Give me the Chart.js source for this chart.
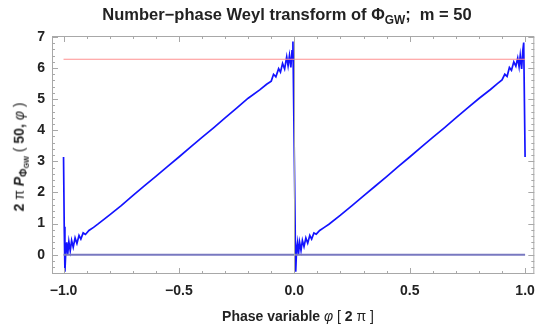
<!DOCTYPE html>
<html>
<head>
<meta charset="utf-8">
<script src="https://cdn.jsdelivr.net/npm/chart.js@4/dist/chart.umd.min.js"></script>
<style>
  body { margin: 0; background: #fff; overflow: hidden; }
  #wrap { position: relative; width: 544px; height: 324px; font-family: "Liberation Sans", Arial, sans-serif; color: #222; }
  #wrap canvas { position: absolute; left: 0; top: 0; }
  .lbl { position: absolute; font-weight: bold; white-space: nowrap; line-height: 1; }
  .lbl sub { font-size: 72%; vertical-align: -0.3em; }
  .lt { font-weight: normal; }
  #title { top: 6px; left: 0; width: 574px; text-align: center; font-size: 16.5px; }
  #xtitle { top: 309px; left: 0; width: 596px; text-align: center; font-size: 14px; }
  #ytitle { left: 21px; top: 157px; font-size: 14px; transform: translate(-50%, -50%) rotate(-90deg); }
</style>
</head>
<body>
<div id="wrap">
  <canvas id="chart" width="544" height="324"></canvas>
  <div class="lbl" id="title">Number−phase Weyl transform of Φ<sub>GW</sub>;&nbsp; m = 50</div>
  <div class="lbl" id="xtitle">Phase variable <i class="lt">φ</i> <span class="lt">[</span> 2 <span class="lt">π ]</span></div>
  <div class="lbl" id="ytitle">2 <span class="lt">π</span> <i>P</i><sub>Φ<sub>GW</sub></sub> <span class="lt">(</span> 50, <i class="lt">φ</i> <span class="lt">)</span></div>
</div>
<script>
// 곡선 데이터 (phase, 2π·P) ////////////////////////////////////////////////
const phi = [
  -1.000, -0.997, -0.994, -0.990, -0.986, -0.982, -0.977, -0.971, -0.965, -0.958,
  -0.950, -0.942, -0.933, -0.925, -0.915, -0.905, -0.890, -0.870, -0.850, -0.800,
  -0.750, -0.700, -0.650, -0.600, -0.550, -0.500, -0.450, -0.400, -0.350, -0.300,
  -0.250, -0.200, -0.150, -0.120, -0.100, -0.090, -0.080, -0.068, -0.060, -0.051,
  -0.042, -0.033, -0.027, -0.021, -0.015, -0.010, -0.006, 0.000,
  0.006, 0.010, 0.014, 0.018, 0.023, 0.029, 0.035, 0.042, 0.050, 0.058,
  0.067, 0.075, 0.085, 0.095, 0.110, 0.130, 0.150, 0.200, 0.250, 0.300,
  0.350, 0.400, 0.450, 0.500, 0.550, 0.600, 0.650, 0.700, 0.750, 0.800,
  0.850, 0.880, 0.900, 0.912, 0.922, 0.932, 0.941, 0.951, 0.960, 0.968,
  0.974, 0.979, 0.985, 0.990, 0.994, 1.000
];
const weyl = [
  3.14, 0.90, -0.55, 0.15, 0.40, 0.00, 0.42, 0.12, 0.46, 0.24,
  0.54, 0.36, 0.62, 0.50, 0.70, 0.65, 0.78, 0.88, 0.99, 1.28,
  1.58, 1.90, 2.21, 2.52, 2.83, 3.14, 3.46, 3.77, 4.08, 4.40,
  4.71, 5.03, 5.30, 5.48, 5.58, 5.80, 5.72, 5.98, 5.87, 6.15,
  5.97, 6.36, 6.07, 6.40, 6.02, 6.55, 6.85, 3.14,
  -0.55, 0.20, 0.40, 0.00, 0.40, 0.14, 0.46, 0.26, 0.54, 0.37,
  0.62, 0.50, 0.70, 0.66, 0.78, 0.88, 0.98, 1.27, 1.58, 1.89,
  2.20, 2.51, 2.83, 3.14, 3.46, 3.77, 4.08, 4.40, 4.71, 5.02,
  5.31, 5.50, 5.62, 5.80, 5.73, 6.02, 5.93, 6.20, 6.06, 6.32,
  6.04, 6.40, 5.97, 6.55, 6.82, 3.14
];

// 기준선 (2π, 0) //////////////////////////////////////////////////////////
const refRange = [-1, 1];
const twoPi = 6.2832;
const zeroLevel = 0;

// 눈금 라벨 ///////////////////////////////////////////////////////////////
const xMajor = [-1, -0.5, 0, 0.5, 1];
const xTickLabels = ['\u22121.0', '\u22120.5', '0.0', '0.5', '1.0'];
const yMajor = [0, 1, 2, 3, 4, 5, 6, 7];
const yTickLabels = ['0', '1', '2', '3', '4', '5', '6', '7'];

function pickLabel(v, majors, labels) {
  const i = majors.findIndex(m => Math.abs(m - v) < 1e-6);
  return i >= 0 ? labels[i] : '';
}

// 프레임 + 안쪽 눈금 (Mathematica 스타일)
const frameTicks = {
  id: 'frameTicks',
  afterDatasetsDraw(chart) {
    const { ctx, chartArea: a, scales: { x, y } } = chart;
    ctx.save();
    ctx.strokeStyle = '#a8a8a8';
    ctx.lineWidth = 1;
    ctx.strokeRect(a.left + 0.5, a.top + 0.5, a.right - a.left - 1, a.bottom - a.top - 1);
    ctx.beginPath();
    // φ = 0 세로축
    const x0 = Math.round(x.getPixelForValue(0)) + 0.5;
    ctx.moveTo(x0, a.top); ctx.lineTo(x0, a.bottom);
    x.ticks.forEach(t => {
      const px = Math.round(x.getPixelForValue(t.value)) + 0.5;
      const len = t.label ? 6 : 3;
      ctx.moveTo(px, a.bottom); ctx.lineTo(px, a.bottom - len);
      ctx.moveTo(px, a.top); ctx.lineTo(px, a.top + len);
    });
    y.ticks.forEach(t => {
      const py = Math.round(y.getPixelForValue(t.value)) + 0.5;
      const len = t.label ? 6 : 3;
      ctx.moveTo(a.left, py); ctx.lineTo(a.left + len, py);
      ctx.moveTo(a.right, py); ctx.lineTo(a.right - len, py);
    });
    ctx.stroke();
    ctx.restore();
  }
};

const tickFont = { family: '"Liberation Sans", Arial, sans-serif', size: 14, weight: 'bold' };

new Chart(document.getElementById('chart'), {
  type: 'scatter',
  data: {
    datasets: [
      {
        data: refRange.map(v => ({ x: v, y: twoPi })),
        showLine: true,
        borderColor: '#ff9090',
        borderWidth: 1.2,
        pointRadius: 0
      },
      {
        data: refRange.map(v => ({ x: v, y: zeroLevel })),
        showLine: true,
        borderColor: '#7878c0',
        borderWidth: 2,
        pointRadius: 0
      },
      {
        data: phi.map((p, i) => ({ x: p, y: weyl[i] })),
        showLine: true,
        borderColor: '#1414ff',
        borderWidth: 1.7,
        pointRadius: 0,
        tension: 0
      }
    ]
  },
  options: {
    responsive: false,
    animation: false,
    layout: { padding: { top: 36, right: 9, left: 0, bottom: 0 } },
    plugins: {
      legend: { display: false },
      tooltip: { enabled: false }
    },
    scales: {
      x: {
        type: 'linear',
        min: -1.05,
        max: 1.04,
        grid: { display: false, drawTicks: false },
        border: { display: false },
        ticks: {
          stepSize: 0.1,
          includeBounds: false,
          autoSkip: false,
          maxRotation: 0,
          minRotation: 0,
          padding: 9,
          color: '#222',
          font: tickFont,
          callback: v => pickLabel(v, xMajor, xTickLabels)
        },
        afterFit: s => { s.height = 50; }
      },
      y: {
        type: 'linear',
        min: -0.62,
        max: 7.03,
        grid: { display: false, drawTicks: false },
        border: { display: false },
        ticks: {
          stepSize: 0.2,
          includeBounds: false,
          autoSkip: false,
          padding: 7,
          color: '#222',
          font: tickFont,
          callback: v => pickLabel(v, yMajor, yTickLabels)
        },
        afterFit: s => { s.width = 52; }
      }
    }
  },
  plugins: [frameTicks]
});
</script>
</body>
</html>
